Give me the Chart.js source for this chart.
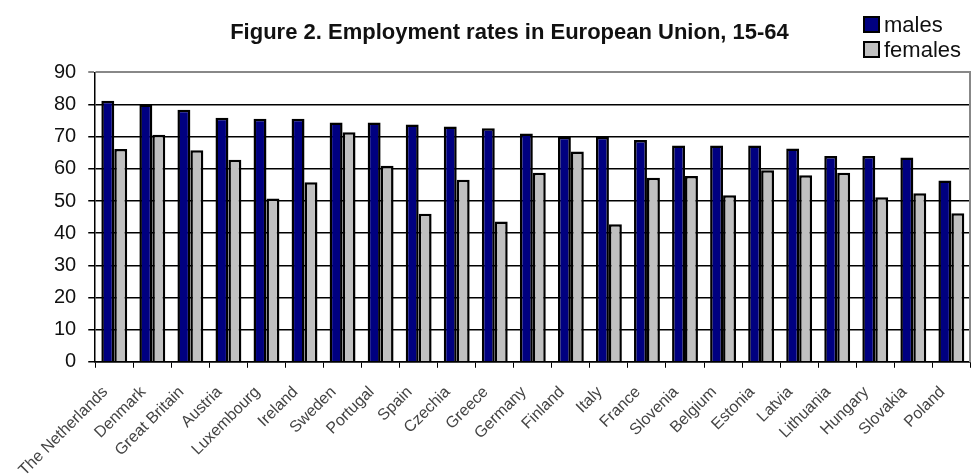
<!DOCTYPE html>
<html>
<head>
<meta charset="utf-8">
<script src="https://cdn.jsdelivr.net/npm/chart.js@4.4.1/dist/chart.umd.min.js"></script>
<style>
  body { margin: 0; background: #fff; }
  #wrap { position: relative; width: 980px; height: 474px; overflow: hidden; }
  #legend { position: absolute; left: 863px; top: 12px; font: 22px Arial, "Liberation Sans", sans-serif; color: #111; line-height: 25px; }
  #legend div { display: flex; align-items: center; }
  #legend span.box { display: inline-block; width: 13px; height: 13px; border: 2px solid #000; margin-right: 4px; }
</style>
</head>
<body>
<div id="wrap">
  <canvas id="myChart" width="980" height="474"></canvas>
  <div id="legend">
    <div><span class="box" style="background:#000080"></span>males</div>
    <div><span class="box" style="background:#c0c0c0"></span>females</div>
  </div>
</div>
<script>
const countries = ['The Netherlands', 'Denmark', 'Great Britain', 'Austria', 'Luxembourg', 'Ireland', 'Sweden', 'Portugal',
    'Spain', 'Czechia', 'Greece', 'Germany', 'Finland', 'Italy', 'France', 'Slovenia', 'Belgium', 'Estonia', 'Latvia',
    'Lithuania', 'Hungary', 'Slovakia', 'Poland'];
const males = [81.2, 80.0, 78.4, 75.9, 75.6, 75.6, 74.4, 74.4, 73.8, 73.2, 72.6, 71.0, 70.0, 70.0, 69.0, 67.3, 67.3, 67.3,
    66.3, 64.0, 64.0, 63.5, 56.4];
const females = [66.2, 70.6, 65.8, 62.8, 50.8, 55.8, 71.4, 61.0, 46.0, 56.6, 43.6, 58.8, 65.4, 42.8, 57.2, 57.8, 51.8, 59.6,
    58.0, 58.8, 51.2, 52.4, 46.2];
const yTicks = [0, 10, 20, 30, 40, 50, 60, 70, 80, 90];

const font = 'Arial, "Liberation Sans", sans-serif';

const chartElement = document.getElementById('myChart');

new Chart(chartElement, {
    type: 'bar',
    data: {
        labels: countries,
        datasets: [{
            label: 'males',
            data: males,
            backgroundColor: '#000080',
            borderColor: '#000',
            borderWidth: 2.5
        }, {
            label: 'females',
            data: females,
            backgroundColor: '#c0c0c0',
            borderColor: '#000',
            borderWidth: 2.5
        }]
    },
    options: {
        responsive: false,
        animation: false,
        layout: {
            padding: { left: 42, right: 3, bottom: -21 }
        },
        datasets: {
            bar: { categoryPercentage: 0.68, barPercentage: 1 }
        },
        plugins: {
            legend: { display: false },
            tooltip: { enabled: false },
            title: {
                display: true,
                text: 'Figure 2. Employment rates in European Union, 15-64',
                color: '#111',
                font: { family: font, size: 22, weight: 'bold' },
                padding: { top: 20, bottom: 26 }
            }
        },
        scales: {
            x: {
                grid: { drawOnChartArea: false, drawTicks: true, tickLength: 6, color: '#000', offset: true },
                border: { color: '#000', width: 1.5 },
                ticks: {
                    color: '#444',
                    font: { family: font, size: 16 },
                    maxRotation: 45,
                    minRotation: 45,
                    autoSkip: false,
                    padding: 15,
                    labelOffset: -9
                }
            },
            y: {
                min: 0,
                max: 90,
                afterBuildTicks: axis => { axis.ticks = yTicks.map(v => ({ value: v })); },
                grid: {
                    color: ctx => ctx.tick && ctx.tick.value === 90 ? '#888' : '#000',
                    lineWidth: ctx => ctx.tick && ctx.tick.value === 90 ? 2 : 1.5,
                    tickLength: 7
                },
                border: { color: '#000', width: 1.5 },
                ticks: {
                    color: '#111',
                    font: { family: font, size: 20 },
                    padding: 12
                }
            },
            y2: {
                position: 'right',
                min: 0,
                max: 90,
                grid: { drawOnChartArea: false, drawTicks: false },
                border: { color: '#888', width: 2 },
                ticks: { display: false }
            }
        }
    }
});
</script>
</body>
</html>
